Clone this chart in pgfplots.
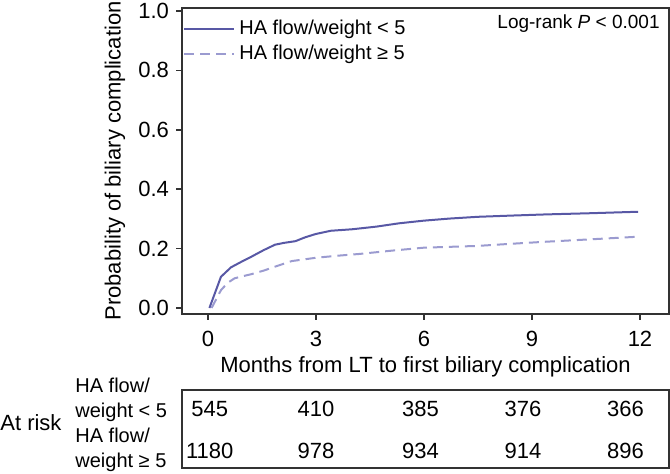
\documentclass[border=0pt]{standalone}
\usepackage{fontspec}
\setmainfont{Liberation Sans}
\usepackage{pgfplots}
\pgfplotsset{compat=1.18}
\definecolor{solidc}{RGB}{88,88,165}
\definecolor{dashc}{RGB}{155,155,208}
\definecolor{axc}{RGB}{50,50,50}
\begin{document}
\begin{tikzpicture}
\useasboundingbox (0,0) rectangle (335pt,237pt);
\begin{axis}[
 at={(91pt,80pt)}, anchor=south west,
 scale only axis, width=243.5pt, height=153pt,
 xmin=-0.722, xmax=12.806, ymin=-0.0202, ymax=1.0101,
 xtick={0,3,6,9,12}, ytick={0,0.2,0.4,0.6,0.8,1.0},
 yticklabel style={/pgf/number format/fixed, /pgf/number format/precision=1, /pgf/number format/fixed zerofill},
 xticklabel style={yshift=-2pt},
 /pgf/number format/assume math mode=true,
 tick align=outside, xtick pos=bottom, ytick pos=left,
 major tick length=3pt,
 axis line style={axc, line width=0.8pt},
 every tick/.style={axc, line width=0.8pt},
 tick label style={font=\fontsize{11}{13}\selectfont, text=black},
 label style={font=\fontsize{11}{13}\selectfont},
 xlabel={Months from LT to first biliary complication},
 xlabel style={at={(axis description cs:0.5,0)}, anchor=center, yshift=-26.5pt},
 ylabel={Probability of biliary complication},
 ylabel style={at={(axis description cs:0,0.5)}, anchor=center, yshift=33.5pt},
 legend style={at={(axis description cs:0,1)}, anchor=north west, xshift=-2.5pt, yshift=-2pt,
   draw=none, fill=none, font=\fontsize{10}{11}\selectfont, row sep=-0.5pt},
 legend cell align=left,
 legend image code/.code={\draw[#1] (0pt,0pt) -- (25pt,0pt);},
]
\addplot[solidc, line width=1pt, line join=round] coordinates {
(0.04,0.0) (0.36,0.105) (0.64,0.137) (0.95,0.157) (1.21,0.173) (1.55,0.195) (1.86,0.213) (2.1,0.219) (2.43,0.225)
(2.7,0.238) (2.99,0.249) (3.41,0.26) (4.0,0.265) (4.68,0.274) (5.3,0.285) (5.99,0.294) (6.7,0.301) (7.49,0.307) (8.4,0.311) (9.37,0.315) (10.6,0.319) (11.95,0.324)
};
\addlegendentry{HA flow/weight < 5}
\addplot[dashc, line width=1pt, dash pattern=on 5pt off 3pt, line join=round] coordinates {
(0.1,0.0) (0.36,0.06) (0.55,0.085) (0.74,0.10) (1.0,0.108) (1.21,0.114) (1.55,0.126) (1.86,0.139) (2.33,0.158) (2.99,0.169)
(3.6,0.176) (4.21,0.182) (5.1,0.193) (5.99,0.203) (7.49,0.209) (8.4,0.216) (9.37,0.223) (10.6,0.231) (11.95,0.24)
};
\addlegendentry{HA flow/weight ≥ 5}
\node[anchor=east, font=\fontsize{9.5}{11}\selectfont, inner sep=0pt, xshift=-4.5pt, yshift=-8pt] at (rel axis cs:1,1) {Log-rank \textit{P} < 0.001};
\end{axis}
\begin{axis}[
 at={(91pt,3pt)}, anchor=south west,
 scale only axis, width=243.5pt, height=39pt,
 xmin=-0.722, xmax=12.806, ymin=0, ymax=1,
 xtick=\empty, ytick=\empty,
 axis line style={axc, line width=0.8pt},
 clip=false,
]
\addplot[only marks, mark=*, mark size=0pt, mark options={draw=none, fill=none},
 nodes near coords, point meta=explicit symbolic,
 nodes near coords style={anchor=center, text=black, font=\fontsize{11}{13}\selectfont}]
 table[meta=n] {
x y n
0.05 0.76 545
3 0.76 410
5.9 0.76 385
8.75 0.76 376
11.6 0.76 366
0.05 0.22 1180
3 0.22 978
5.9 0.22 934
8.75 0.22 914
11.6 0.22 896
};
\end{axis}
\node[anchor=west, inner sep=0pt, font=\fontsize{11}{13}\selectfont] at (0pt,25.5pt) {At risk};
\node[anchor=west, align=left, inner sep=0pt, font=\fontsize{10}{12.5}\selectfont] at (37.5pt,37.25pt) {HA flow/\\weight < 5};
\node[anchor=west, align=left, inner sep=0pt, font=\fontsize{10}{12.5}\selectfont] at (37.5pt,12pt) {HA flow/\\weight ≥ 5};
\end{tikzpicture}
\end{document}
